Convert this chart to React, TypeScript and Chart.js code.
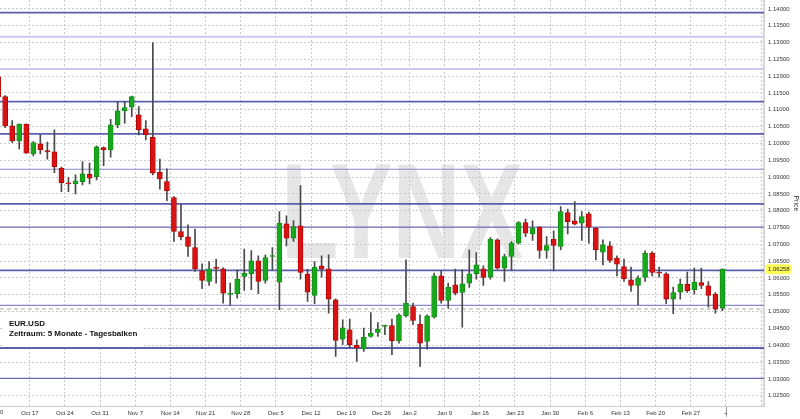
import React, { useEffect, useRef } from "react";
import { Chart, registerables } from "chart.js";

Chart.register(...registerables);

const SYMBOL = "EUR.USD";
const SUBTITLE = "Zeitraum: 5 Monate - Tagesbalken";
const WATERMARK = "LYNX";
const AXIS_TITLE = "Price";
const FUTURE_MARK = "+";

const FIRST_DAY = "2016-10-10";
const LAST_DAY = "2017-03-03";
const CLOSED_DAYS = ["2016-12-26"];

const OPEN = [
  1.11976, 1.11391, 1.1052, 1.10075, 1.10571, 1.09688, 1.09985, 1.09786, 1.09748, 1.09264,
  1.08827, 1.08797, 1.08865, 1.09085, 1.09014, 1.09876, 1.09807, 1.1055, 1.10975, 1.11076,
  1.10847, 1.10431, 1.10184, 1.09145, 1.08865, 1.0839, 1.0738, 1.07223, 1.06905, 1.06212,
  1.05895, 1.06322, 1.06272, 1.05508, 1.05529, 1.06043, 1.06123, 1.0651, 1.05924, 1.06637,
  1.05877, 1.07609, 1.07184, 1.07549, 1.06114, 1.05479, 1.06361, 1.06272, 1.05351, 1.04183,
  1.0446, 1.03993, 1.03895, 1.04261, 1.04379, 1.04558, 1.04587, 1.04133, 1.04876, 1.05152,
  1.04629, 1.04112, 1.04837, 1.06064, 1.0533, 1.05796, 1.05568, 1.05847, 1.06123, 1.06272,
  1.06025, 1.07133, 1.06293, 1.06637, 1.07035, 1.07647, 1.07312, 1.07511, 1.06816, 1.07154,
  1.06934, 1.07944, 1.07698, 1.0763, 1.07906, 1.07481, 1.06768, 1.06955, 1.0659, 1.0634,
  1.05945, 1.05776, 1.06013, 1.06738, 1.06162, 1.06123, 1.05372, 1.0558, 1.05817, 1.05648,
  1.05865, 1.05767, 1.0552, 1.05104,
];
const HIGH = [
  1.12035, 1.1142, 1.10678, 1.1058, 1.1058, 1.10054, 1.10262, 1.10036, 1.10401, 1.093,
  1.08984, 1.09064, 1.0946, 1.09412, 1.09926, 1.099, 1.10719, 1.11233, 1.11242, 1.11411,
  1.11094, 1.10678, 1.12995, 1.09531, 1.09243, 1.0842, 1.08194, 1.07579, 1.07451, 1.0642,
  1.06489, 1.0656, 1.063, 1.05847, 1.06242, 1.06857, 1.06816, 1.06658, 1.06688, 1.06905,
  1.07974, 1.07846, 1.07707, 1.08747, 1.06263, 1.06489, 1.06658, 1.06688, 1.0538, 1.04757,
  1.04777, 1.04162, 1.0451, 1.04973, 1.04676, 1.046, 1.04777, 1.04935, 1.06539, 1.05253,
  1.04905, 1.04905, 1.06144, 1.06221, 1.05847, 1.06263, 1.06242, 1.06836, 1.06756, 1.06361,
  1.07202, 1.0716, 1.06709, 1.07083, 1.07677, 1.07748, 1.07698, 1.0753, 1.07231, 1.07401,
  1.08123, 1.08045, 1.08271, 1.07974, 1.0796, 1.075, 1.07133, 1.07083, 1.06658, 1.0656,
  1.06322, 1.06064, 1.06807, 1.06786, 1.06322, 1.06162, 1.05728, 1.05966, 1.06174, 1.06293,
  1.06293, 1.05895, 1.05568, 1.06272,
];
const LOW = [
  1.11352, 1.1047, 1.10024, 1.09837, 1.097, 1.09629, 1.09688, 1.09531, 1.09133, 1.08568,
  1.08568, 1.085, 1.08767, 1.08797, 1.08916, 1.09341, 1.0959, 1.1047, 1.106, 1.10797,
  1.10253, 1.10104, 1.09064, 1.0864, 1.08301, 1.07083, 1.07133, 1.06637, 1.06192, 1.05678,
  1.05776, 1.05847, 1.05253, 1.05182, 1.05401, 1.05627, 1.05648, 1.05529, 1.05847, 1.06242,
  1.05054, 1.06955, 1.07083, 1.05966, 1.053, 1.05232, 1.06025, 1.04956, 1.03666, 1.04014,
  1.03916, 1.03518, 1.03815, 1.0424, 1.04261, 1.04311, 1.03717, 1.04064, 1.04837, 1.04608,
  1.03369, 1.03886, 1.04807, 1.05253, 1.05104, 1.05499, 1.0454, 1.05716, 1.05966, 1.05776,
  1.05966, 1.06263, 1.05895, 1.06242, 1.07006, 1.07231, 1.07113, 1.0659, 1.0659, 1.06212,
  1.06836, 1.07312, 1.0758, 1.07113, 1.07035, 1.06539, 1.06391, 1.06459, 1.06064, 1.05895,
  1.05597, 1.05202, 1.05895, 1.06064, 1.06025, 1.05232, 1.04935, 1.05372, 1.05568, 1.0552,
  1.05678, 1.05134, 1.04956, 1.05024,
];
const CLOSE = [
  1.11382, 1.1052, 1.10075, 1.10571, 1.09709, 1.10024, 1.09807, 1.09748, 1.09311, 1.08836,
  1.08797, 1.08886, 1.09094, 1.08966, 1.09896, 1.09816, 1.1055, 1.10966, 1.11064, 1.11391,
  1.10401, 1.10262, 1.09115, 1.08946, 1.08598, 1.0738, 1.07231, 1.06934, 1.06272, 1.05924,
  1.06272, 1.06281, 1.0555, 1.0555, 1.05966, 1.06144, 1.0651, 1.05895, 1.06608, 1.06658,
  1.0763, 1.07184, 1.07529, 1.06162, 1.0558, 1.06322, 1.06263, 1.05372, 1.04142, 1.04519,
  1.04014, 1.03916, 1.04231, 1.04362, 1.0448, 1.04587, 1.04133, 1.04905, 1.05253, 1.04736,
  1.04064, 1.04876, 1.06064, 1.0533, 1.05728, 1.0555, 1.05826, 1.06123, 1.06391, 1.06013,
  1.07154, 1.06293, 1.06637, 1.07035, 1.07647, 1.07332, 1.07481, 1.06816, 1.06964, 1.06964,
  1.07974, 1.07677, 1.076, 1.07826, 1.07511, 1.06836, 1.06985, 1.06518, 1.06411, 1.05975,
  1.05776, 1.05995, 1.06738, 1.06162, 1.06144, 1.05372, 1.05568, 1.05817, 1.05618, 1.05877,
  1.05776, 1.05479, 1.05075, 1.06258,
];

const Y_TICKS = [
  1.025, 1.03, 1.035, 1.04, 1.045, 1.05, 1.055, 1.06, 1.065, 1.07, 1.075, 1.08,
  1.085, 1.09, 1.095, 1.1, 1.105, 1.11, 1.115, 1.12, 1.125, 1.13, 1.135, 1.14,
];
const Y_MIN = 1.02172;
const Y_MAX = 1.14264;
const X_MIN = 0.265;
const X_MAX = 108.91;

const LEVELS = [
  1.13886, 1.13173, 1.12214, 1.11242, 1.10283, 1.09234, 1.08203, 1.07511, 1.06224,
  1.05184, 1.0508, 1.03917, 1.03014,
];

const MONTHS = ["Jan", "Feb", "Mar", "Apr", "May", "Jun", "Jul", "Aug", "Sep", "Oct", "Nov", "Dec"];

// styling for the level lines (kept apart from the values)
const DARK = { color: "rgba(80,80,168,0.92)", width: 1.8, dash: [] as number[] };
const LIGHT = { color: "rgba(200,200,240,1)", width: 2, dash: [] as number[] };
const MEDIUM = { color: "rgba(136,136,204,1)", width: 1.1, dash: [] as number[] };
const MEDDARK = { color: "rgba(106,106,186,1)", width: 1.3, dash: [] as number[] };
const DASHED = { color: "rgba(205,205,205,1)", width: 1.6, dash: [4, 3] };
const LEVEL_STYLES = [DARK, LIGHT, LIGHT, DARK, DARK, MEDIUM, DARK, MEDDARK, DARK, MEDIUM, DASHED, DARK, MEDDARK];

const FONT = '"Liberation Sans", Arial, sans-serif';

function tradingDays(): Date[] {
  const out: Date[] = [];
  const d = new Date(FIRST_DAY + "T00:00:00Z");
  const end = new Date(LAST_DAY + "T00:00:00Z");
  while (d <= end) {
    const wd = d.getUTCDay();
    const iso = d.toISOString().slice(0, 10);
    if (wd !== 0 && wd !== 6 && !CLOSED_DAYS.includes(iso)) out.push(new Date(d));
    d.setUTCDate(d.getUTCDate() + 1);
  }
  return out;
}

function mondayLabel(d: Date): string {
  const m = new Date(d);
  m.setUTCDate(m.getUTCDate() - (m.getUTCDay() - 1));
  return MONTHS[m.getUTCMonth()] + " " + m.getUTCDate();
}

export default function App() {
  const ref = useRef<HTMLCanvasElement | null>(null);

  useEffect(() => {
    document.body.style.margin = "0";
    const days = tradingDays();
    const n = CLOSE.length;
    const boundaries: { value: number; label: string }[] = [];
    const firstLabel = mondayLabel(days[0]);
    for (let i = 1; i < n; i++) {
      if (days[i].getUTCDay() < days[i - 1].getUTCDay()) {
        boundaries.push({ value: i - 0.5, label: mondayLabel(days[i]) });
      }
    }
    boundaries.push({ value: n - 0.5, label: FUTURE_MARK });
    for (let v = n + 4.5; v < X_MAX; v += 5) boundaries.push({ value: v, label: "" });

    const up = (i: number) => CLOSE[i] >= OPEN[i];
    const bodies = CLOSE.map((c, i) => ({ x: i, y: [OPEN[i], c] }));
    const wicks = HIGH.map((h, i) => ({ x: i, y: [LOW[i], h] }));

    const overlay = {
      id: "overlay",
      beforeDraw(chart: any) {
        const { ctx, chartArea: a } = chart;
        ctx.save();
        ctx.fillStyle = "#ffffff";
        ctx.fillRect(0, 0, chart.width, chart.height);
        ctx.beginPath();
        ctx.rect(a.left, a.top, a.right - a.left, a.bottom - a.top);
        ctx.clip();
        ctx.fillStyle = "#e6e6e6";
        ctx.font = "bold 136px " + FONT;
        ctx.textBaseline = "alphabetic";
        const w = ctx.measureText(WATERMARK).width;
        ctx.translate(281, 258);
        ctx.scale(242 / w, 1);
        ctx.fillText(WATERMARK, 0, 0);
        ctx.restore();
      },
      beforeDatasetsDraw(chart: any) {
        const { ctx, chartArea: a, scales } = chart;
        const y = scales.y;
        ctx.save();
        ctx.beginPath();
        ctx.rect(a.left, a.top, a.right - a.left, a.bottom - a.top);
        ctx.clip();
        LEVELS.forEach((v, k) => {
          const s = LEVEL_STYLES[k];
          const py = y.getPixelForValue(v);
          ctx.strokeStyle = s.color;
          ctx.lineWidth = s.width;
          ctx.setLineDash(s.dash);
          ctx.beginPath();
          ctx.moveTo(a.left, py);
          ctx.lineTo(a.right, py);
          ctx.stroke();
        });
        ctx.setLineDash([]);
        ctx.fillStyle = "#ffffff";
        ctx.fillRect(4, 312, 140, 34);
        ctx.fillStyle = "#111111";
        ctx.font = "bold 8px " + FONT;
        ctx.textBaseline = "middle";
        ctx.textAlign = "left";
        ctx.fillText(SYMBOL, 9, 323.5);
        ctx.fillText(SUBTITLE, 9, 333.5);
        ctx.restore();
      },
      afterDraw(chart: any) {
        const { ctx, chartArea: a, scales } = chart;
        const x = scales.x;
        const y = scales.y;
        ctx.save();
        const last = CLOSE[CLOSE.length - 1];
        const py = y.getPixelForValue(last);
        ctx.fillStyle = "#ffff5a";
        ctx.beginPath();
        (ctx as any).roundRect ? (ctx as any).roundRect(a.right + 1.5, py - 5, 26, 10, 3) : ctx.rect(a.right + 1.5, py - 5, 26, 10);
        ctx.fill();
        ctx.fillStyle = "#222";
        ctx.font = "6px " + FONT;
        ctx.textBaseline = "middle";
        ctx.textAlign = "left";
        ctx.fillText(last.toFixed(5), a.right + 4, py + 0.5);
        ctx.textAlign = "center";
        ctx.textBaseline = "top";
        ctx.fillStyle = "#333";
        ctx.fillText(firstLabel, x.getPixelForValue(-0.5), a.bottom + 3);
        const mx = Math.round(x.getPixelForValue(n - 0.5)) + 0.5;
        ctx.strokeStyle = "#999";
        ctx.lineWidth = 1;
        ctx.beginPath();
        ctx.moveTo(mx, a.bottom);
        ctx.lineTo(mx, a.bottom + 10);
        ctx.stroke();
        ctx.restore();
      },
    };

    const chart = new Chart(ref.current as HTMLCanvasElement, {
      type: "bar",
      data: {
        datasets: [
          {
            label: "body",
            data: bodies as any,
            order: 0,
            grouped: false,
            barThickness: 5,
            minBarLength: 1,
            borderSkipped: false,
            borderWidth: 0.8,
            backgroundColor: CLOSE.map((_, i) => (up(i) ? "#17a81c" : "#d81313")),
            borderColor: CLOSE.map((_, i) => (up(i) ? "#0f8a14" : "#b00000")),
          } as any,
          {
            label: "wick",
            data: wicks as any,
            order: 1,
            grouped: false,
            barThickness: 1,
            borderWidth: 0,
            backgroundColor: "#4a4a4a",
          } as any,
        ],
      },
      options: {
        animation: false,
        responsive: true,
        maintainAspectRatio: false,
        layout: { padding: 0 },
        plugins: { legend: { display: false }, tooltip: { enabled: false } },
        scales: {
          x: {
            type: "linear",
            min: X_MIN,
            max: X_MAX,
            offset: false,
            afterBuildTicks: (s: any) => {
              s.ticks = boundaries.map((b) => ({ value: b.value }));
            },
            afterFit: (s: any) => {
              s.height = 12.3;
              s.paddingLeft = 0;
              s.paddingRight = 0;
            },
            ticks: {
              autoSkip: false,
              maxRotation: 0,
              padding: 3,
              color: "#333",
              font: { size: 6, family: FONT },
              callback: (_v: any, idx: number) => boundaries[idx]?.label ?? "",
            },
            grid: { color: "#c9c9c9", lineWidth: 1, drawTicks: false, offset: false },
            border: { display: true, color: "#cfcfcf", width: 1, dash: [2, 2] },
          },
          y: {
            type: "linear",
            position: "right",
            min: Y_MIN,
            max: Y_MAX,
            afterBuildTicks: (s: any) => {
              s.ticks = Y_TICKS.map((v) => ({ value: v }));
            },
            afterFit: (s: any) => {
              s.width = 36;
              s.paddingTop = 0;
              s.paddingBottom = 0;
            },
            ticks: {
              padding: 4,
              color: "#333",
              font: { size: 6, family: FONT },
              callback: (v: any) => Number(v).toFixed(5),
            },
            title: {
              display: true,
              text: AXIS_TITLE,
              color: "#333",
              font: { size: 7, family: FONT },
              padding: { top: 0, bottom: 1 },
            },
            grid: { color: "#c9c9c9", lineWidth: 1, drawTicks: false },
            border: { display: true, color: "#d6d6d6", width: 2, dash: [2, 2] },
          },
        },
      },
      plugins: [overlay],
    });
    return () => chart.destroy();
  }, []);

  return (
    <div style={{ width: 800, height: 419, position: "relative" }}>
      <canvas ref={ref} />
    </div>
  );
}
